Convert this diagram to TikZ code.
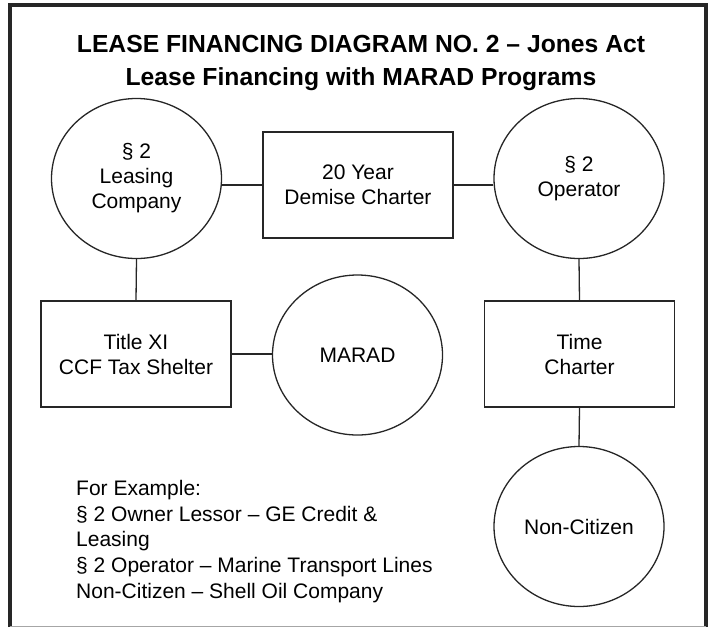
\documentclass[tikz,border=0pt]{standalone}
\usepackage{fontspec}
\setmainfont{Liberation Sans}
\usetikzlibrary{shapes.geometric}

\begin{document}
\begin{tikzpicture}[x=1pt,y=-1pt,
  party/.style={draw=black!85, line width=1.3pt, ellipse, inner sep=0pt,
    minimum width=170pt, minimum height=160pt, align=center,
    font=\fontsize{21}{25}\selectfont},
  deal/.style={draw=black!85, line width=1.3pt, rectangle, inner sep=0pt,
    minimum width=190pt, minimum height=106pt, align=center,
    font=\fontsize{21}{25}\selectfont},
  link/.style={draw=black!85, line width=1.3pt}]
\useasboundingbox (0,0) rectangle (719,627);
% frame
\draw[line width=4pt, black!85] (9.5,627) -- (9.5,5.3) -- (706.3,5.3) -- (706.3,627);
\draw[line width=1pt, black!35] (9.5,626) -- (706.3,626);
% title
\node[font=\bfseries\fontsize{24.7}{33}\selectfont, align=center] (title) at (361,63)
  {LEASE FINANCING DIAGRAM NO. 2 -- Jones Act\\Lease Financing with MARAD Programs};
% parties and contracts
\node[party] (lessor) at (136.5,178.5) {\S{} 2\\Leasing\\Company};
\node[deal] (demise) at (358,185) {20 Year\\Demise Charter};
\node[party] (operator) at (579,178.5) {\S{} 2\\Operator};
\node[deal] (titlexi) at (136,354) {Title XI\\CCF Tax Shelter};
\node[party] (marad) at (357.5,355) {MARAD};
\node[deal] (timech) at (579.5,354) {Time\\Charter};
\node[party] (noncit) at (579,526.5) {Non-Citizen};
% example
\node[anchor=north west, align=left, inner sep=0pt,
  font=\fontsize{21}{25.7}\selectfont] (example) at (76,480)
  {For Example:\\\S{} 2 Owner Lessor -- GE Credit \&\\Leasing\\
   \S{} 2 Operator -- Marine Transport Lines\\Non-Citizen -- Shell Oil Company};
% connections
\path[link] (demise.west) -- (lessor.east |- demise.west);
\path[link] (demise.east) -- (operator.west |- demise.east);
\path[link] (lessor.south) -- (titlexi.north);
\path[link] (titlexi.east) -- (marad.west |- titlexi.east);
\path[link] (operator.south) -- (timech.north);
\path[link] (timech.south) -- (noncit.north);
\end{tikzpicture}
\end{document}
